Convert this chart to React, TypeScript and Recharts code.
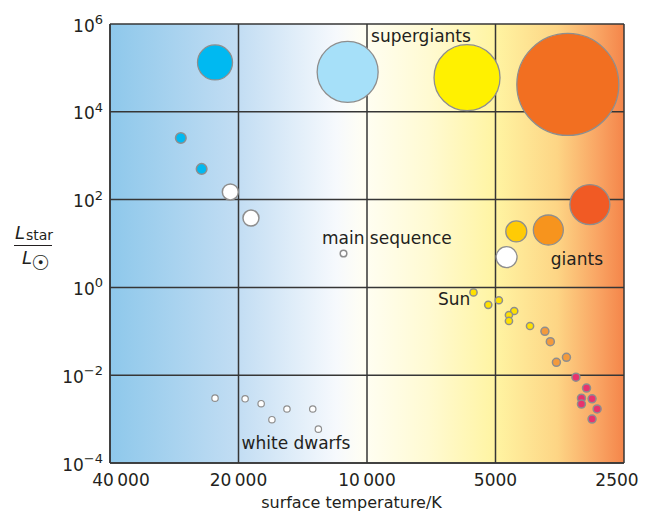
import React from 'react';
import { ScatterChart, Scatter, XAxis, YAxis, CartesianGrid } from 'recharts';

// ---- data (surface temperature in K, luminosity in L_sun) ----
const supergiants = [
  { t: 22700, l: 1.33e5 },
  { t: 11100, l: 8.1e4 },
  { t: 5830, l: 6.0e4 },
  { t: 3385, l: 4.2e4 },
];
const giants = [
  { t: 3005, l: 77 },
  { t: 3760, l: 20.3 },
  { t: 4470, l: 18.8 },
  { t: 4710, l: 4.9 },
];
const mainSequence = [
  { t: 27300, l: 2530 },
  { t: 24400, l: 500 },
  { t: 20900, l: 149 },
  { t: 18700, l: 38 },
  { t: 11350, l: 5.9 },
  { t: 5630, l: 0.77 },
  { t: 5200, l: 0.4 },
  { t: 4910, l: 0.51 },
  { t: 4520, l: 0.29 },
  { t: 4650, l: 0.235 },
  { t: 4650, l: 0.172 },
  { t: 4150, l: 0.132 },
  { t: 3830, l: 0.1 },
  { t: 3720, l: 0.058 },
  { t: 3410, l: 0.0256 },
  { t: 3600, l: 0.0197 },
  { t: 3240, l: 0.009 },
  { t: 3060, l: 0.0051 },
  { t: 3145, l: 0.003 },
  { t: 2970, l: 0.0029 },
  { t: 3145, l: 0.0022 },
  { t: 2890, l: 0.0017 },
  { t: 2970, l: 0.001 },
];
const whiteDwarfs = [
  { t: 22700, l: 0.003 },
  { t: 19300, l: 0.0029 },
  { t: 17700, l: 0.00224 },
  { t: 16700, l: 0.00097 },
  { t: 15400, l: 0.0017 },
  { t: 13400, l: 0.0017 },
  { t: 13000, l: 0.00059 },
];
const annotations = [
  { t: 9784, l: 3.99e5, text: 'supergiants' },
  { t: 12750, l: 10, text: 'main sequence' },
  { t: 3711, l: 3.24, text: 'giants' },
  { t: 6819, l: 0.397, text: 'Sun' },
  { t: 19670, l: 2.08e-4, text: 'white dwarfs' },
];
const xTicks = [40000, 20000, 10000, 5000, 2500];
const xTickLabels = ['40\u2009000', '20\u2009000', '10\u2009000', '5000', '2500'];
const yTicks = [1e-4, 1e-2, 1, 1e2, 1e4, 1e6];
const yTickExponents = ['\u22124', '\u22122', '0', '2', '4', '6'];

// ---- styles ----
const supergiantRadii = [17.5, 30.5, 33, 51];
const supergiantColors = ['#00b9f1', '#a6e0f9', '#fff100', '#f26f21'];
const giantRadii = [20, 15, 10.5, 10.5];
const giantColors = ['#f15a24', '#f7941d', '#ffcb05', '#ffffff'];
const BLUE = '#00b9f1';
const WHITE = '#ffffff';
const YEL = '#ffe100';
const ORA = '#f39a3c';
const PINK = '#e8336d';
const mainRadii = [5.3, 5.3, 8, 8, 3.3, 3.6, 3.6, 3.6, 3.6, 3.6, 3.6, 3.6, 4, 4, 4, 4, 4, 4, 4, 4, 4, 4, 4];
const mainColors = [BLUE, BLUE, WHITE, WHITE, WHITE, YEL, YEL, YEL, YEL, YEL, YEL, YEL, ORA, ORA, ORA, ORA, PINK, PINK, PINK, PINK, PINK, PINK, PINK];
const dwarfRadii = whiteDwarfs.map(() => 3.2);
const dwarfColors = whiteDwarfs.map(() => WHITE);

const FONT = '"DejaVu Sans", sans-serif';
const INK = '#231f20';
const GRID = '#363636';
const STROKE = '#8e8e8e';

const makeShape = (data: any[], radii: number[], colors: string[], sw: number) => (props: any) => {
  const { cx, cy, payload } = props;
  let i = data.findIndex((d) => payload && d.t === payload.t && d.l === payload.l);
  if (i < 0 && typeof props.index === 'number') i = props.index;
  if (cx == null || cy == null || i < 0) return <g />;
  return <circle cx={cx} cy={cy} r={radii[i]} fill={colors[i]} stroke={STROKE} strokeWidth={sw} />;
};

const annotationShape = (props: any) => {
  const { cx, cy, payload } = props;
  if (cx == null || cy == null) return <g />;
  return (
    <text x={cx} y={cy} fontFamily={FONT} fontSize={17} fill={INK}>
      {payload.text}
    </text>
  );
};

const XTick = (props: any) => {
  const { x, y, payload, index } = props;
  const i = xTicks.indexOf(payload.value);
  const dx = i === 0 ? 11 : i === xTicks.length - 1 ? -7 : 0;
  return (
    <text x={x + dx} y={y + 23} textAnchor="middle" fontFamily={FONT} fontSize={17} fill={INK} key={index}>
      {xTickLabels[i]}
    </text>
  );
};

const YTick = (props: any) => {
  const { x, y, payload } = props;
  const i = yTicks.indexOf(payload.value);
  return (
    <text x={x - 7} y={y + 7.5} textAnchor="end" fontFamily={FONT} fill={INK}>
      <tspan fontSize={17}>10</tspan>
      <tspan fontSize={13} dy={-7.5}>{yTickExponents[i]}</tspan>
    </text>
  );
};

const XLabel = (props: any) => {
  const vb = props.viewBox || { x: 110, y: 463, width: 514 };
  return (
    <text x={vb.x + vb.width / 2 - 15.5} y={vb.y + 45} textAnchor="middle" fontFamily={FONT} fontSize={16} fill={INK}>
      surface temperature/K
    </text>
  );
};

const YLabel = (props: any) => {
  const vb = props.viewBox || { x: 0, y: 24 };
  const ox = vb.x;
  const oy = vb.y - 24;
  return (
    <g fontFamily={FONT} fill={INK}>
      <text x={ox + 15} y={oy + 238.5} fontSize={18} fontStyle="italic">L</text>
      <text x={ox + 26} y={oy + 240} fontSize={14}>star</text>
      <line x1={ox + 14} x2={ox + 52} y1={oy + 245.5} y2={oy + 245.5} stroke={INK} strokeWidth={1.2} />
      <text x={ox + 22} y={oy + 264} fontSize={18} fontStyle="italic">L</text>
      <text x={ox + 40.5} y={oy + 269.5} fontSize={21} fontWeight="bold" textAnchor="middle">{'\u2609'}</text>
    </g>
  );
};

export default function App() {
  return (
    <div style={{ position: 'absolute', left: 0, top: 0, fontFamily: FONT }}>
      <ScatterChart width={654} height={515} margin={{ top: 24, right: 30, bottom: 0, left: 0 }}>
        <defs>
          <linearGradient id="bgGrad" x1="0" y1="0" x2="1" y2="0">
            <stop offset="0" stopColor="#8ec8eb" />
            <stop offset="0.249" stopColor="#c2ddf3" />
            <stop offset="0.44" stopColor="#f6f9fd" />
            <stop offset="0.49" stopColor="#fffef4" />
            <stop offset="0.62" stopColor="#fffad2" />
            <stop offset="0.75" stopColor="#fff4a2" />
            <stop offset="0.87" stopColor="#fdd585" />
            <stop offset="0.95" stopColor="#f9a463" />
            <stop offset="1" stopColor="#f4854a" />
          </linearGradient>
        </defs>
        <CartesianGrid
          stroke={GRID}
          strokeWidth={1.5}
          fill="url(#bgGrad)"
          fillOpacity={1}
          horizontalValues={yTicks}
          verticalValues={xTicks}
        />
        <XAxis
          type="number"
          dataKey="t"
          scale="log"
          domain={[2500, 40000]}
          reversed
          allowDataOverflow
          ticks={xTicks}
          interval={0}
          height={52}
          tickSize={0}
          tickMargin={0}
          tickLine={false}
          axisLine={{ stroke: GRID, strokeWidth: 1.5 }}
          tick={<XTick />}
          label={<XLabel />}
        />
        <YAxis
          type="number"
          dataKey="l"
          scale="log"
          domain={[1e-4, 1e6]}
          allowDataOverflow
          ticks={yTicks}
          interval={0}
          width={110}
          tickSize={0}
          tickMargin={0}
          tickLine={false}
          axisLine={{ stroke: GRID, strokeWidth: 1.5 }}
          tick={<YTick />}
          label={<YLabel />}
        />
        <Scatter data={whiteDwarfs} isAnimationActive={false} shape={makeShape(whiteDwarfs, dwarfRadii, dwarfColors, 1.2)} />
        <Scatter data={mainSequence} isAnimationActive={false} shape={makeShape(mainSequence, mainRadii, mainColors, 1.5)} />
        <Scatter data={giants} isAnimationActive={false} shape={makeShape(giants, giantRadii, giantColors, 1.3)} />
        <Scatter data={supergiants} isAnimationActive={false} shape={makeShape(supergiants, supergiantRadii, supergiantColors, 1.3)} />
        <Scatter data={annotations} isAnimationActive={false} shape={annotationShape} />
      </ScatterChart>
    </div>
  );
}
